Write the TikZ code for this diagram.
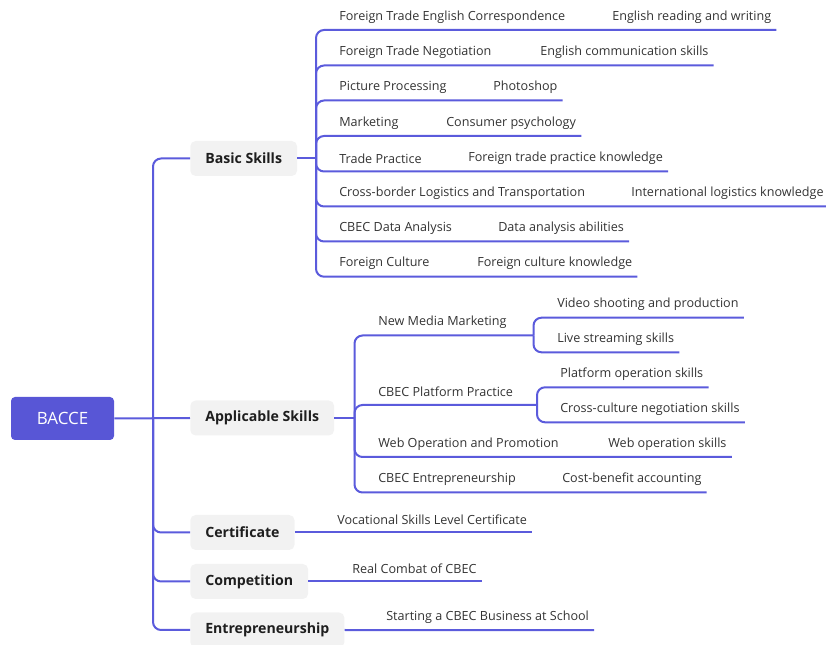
\documentclass[tikz,border=0pt]{standalone}
\usepackage{fontspec}
\setmainfont{Open Sans}
\definecolor{lc}{HTML}{5B5BDC}
\definecolor{rootc}{HTML}{5856D6}
\definecolor{bx}{HTML}{F2F2F2}
\definecolor{tc}{HTML}{333333}
\definecolor{tb}{HTML}{1E1E1E}
\newcommand{\leaffont}{\fontsize{9.45pt}{11pt}\selectfont}
\newcommand{\lvlfont}{\fontsize{10.6pt}{12pt}\selectfont}
\newcommand{\rootfont}{\fontsize{12.7pt}{14pt}\selectfont}
\tikzset{
  conn/.style={draw=lc, line width=1.5pt, rounded corners=6pt},
  leaf/.style={anchor=west, inner sep=0pt, text=tc, font=\leaffont, yshift=-0.75pt},
  lvl/.style={anchor=west, fill=bx, rounded corners=4pt, minimum height=26.25pt, inner xsep=11.25pt, inner ysep=0pt, text=tb, font=\lvlfont\bfseries},
  rootbox/.style={fill=rootc, rounded corners=3pt, minimum width=77.25pt, minimum height=32.25pt, text=white, font=\rootfont},
}
\begin{document}
\begin{tikzpicture}[x=0.75pt,y=-0.75pt]
\useasboundingbox (0,0) rectangle (826,645);
% root
\node[rootbox] (root) at (62.5,418.5) {BACCE};
% level 1
\node[lvl] (basic) at (190,158.5) {Basic Skills};
\node[lvl] (app) at (190,418) {Applicable Skills};
\node[lvl] (cert) at (190,532.5) {Certificate};
\node[lvl] (comp) at (190,581.5) {Competition};
\node[lvl] (entr) at (190,630) {Entrepreneurship};
\coordinate (j0) at (153,418);
\draw[conn] (root.east) -- (app.west);
\draw[conn] (j0) |- (basic.west);
\draw[conn] (j0) |- (cert.west);
\draw[conn] (j0) |- (comp.west);
\draw[conn] (j0) |- (entr.west);
% basic skills children
\coordinate (bj) at (316,158.5);
\draw[conn] (basic.east) -- (bj);
\node[leaf] (b1) at (339,16) {Foreign Trade English Correspondence};
\node[leaf] (b1g) at (612,16) {English reading and writing};
\node[leaf] (b2) at (339,51.5) {Foreign Trade Negotiation};
\node[leaf] (b2g) at (540,51.5) {English communication skills};
\node[leaf] (b3) at (339,86.5) {Picture Processing};
\node[leaf] (b3g) at (493,86.5) {Photoshop};
\node[leaf] (b4) at (339,122) {Marketing};
\node[leaf] (b4g) at (446,122) {Consumer psychology};
\node[leaf] (b5) at (339,157.5) {Trade Practice};
\node[leaf] (b5g) at (468,157.5) {Foreign trade practice knowledge};
\node[leaf] (b6) at (339,192.5) {Cross-border Logistics and Transportation};
\node[leaf] (b6g) at (631,192.5) {International logistics knowledge};
\node[leaf] (b7) at (339,227.5) {CBEC Data Analysis};
\node[leaf] (b7g) at (498,227.5) {Data analysis abilities};
\node[leaf] (b8) at (339,262.7) {Foreign Culture};
\node[leaf] (b8g) at (477,262.7) {Foreign culture knowledge};
\foreach \i in {1,...,8}{
  \path (b\i g.east) ++(5,13) coordinate (b\i e);
  \draw[conn] (bj) |- (b\i e);
}
% applicable skills children
\coordinate (aj) at (354.5,418);
\draw[conn] (app.east) -- (aj);
\node[leaf] (a1) at (378,321.5) {New Media Marketing};
\coordinate (a1j) at (533.5,335.5);
\draw[conn] (aj) |- (a1j);
\node[leaf] (a1g1) at (557,303.7) {Video shooting and production};
\node[leaf] (a1g2) at (557,338.3) {Live streaming skills};
\path (a1g1.east) ++(5,13) coordinate (a1e1);
\path (a1g2.east) ++(5,13) coordinate (a1e2);
\draw[conn] (a1j) |- (a1e1);
\draw[conn] (a1j) |- (a1e2);
\node[leaf] (a2) at (378,390.5) {CBEC Platform Practice};
\coordinate (a2j) at (537,405);
\draw[conn] (aj) |- (a2j);
\node[leaf] (a2g1) at (560,373.3) {Platform operation skills};
\node[leaf] (a2g2) at (560,408.3) {Cross-culture negotiation skills};
\path (a2g1.east) ++(5,13) coordinate (a2e1);
\path (a2g2.east) ++(5,13) coordinate (a2e2);
\draw[conn] (a2j) |- (a2e1);
\draw[conn] (a2j) |- (a2e2);
\node[leaf] (a3) at (378,443) {Web Operation and Promotion};
\node[leaf] (a3g) at (608,443) {Web operation skills};
\path (a3g.east) ++(5,13) coordinate (a3e);
\draw[conn] (aj) |- (a3e);
\node[leaf] (a4) at (378,478.5) {CBEC Entrepreneurship};
\node[leaf] (a4g) at (562,478.5) {Cost-benefit accounting};
\path (a4g.east) ++(5,13) coordinate (a4e);
\draw[conn] (aj) |- (a4e);
% other level-1 children
\node[leaf] (c1) at (337,519) {Vocational Skills Level Certificate};
\path (c1.east) ++(5,12.5) coordinate (c1e);
\draw[conn] (cert.east) -- (c1e);
\node[leaf] (d1) at (352,568) {Real Combat of CBEC};
\path (d1.east) ++(5,12.5) coordinate (d1e);
\draw[conn] (comp.east) -- (d1e);
\node[leaf] (e1) at (386,616.7) {Starting a CBEC Business at School};
\path (e1.east) ++(5,12.5) coordinate (e1e);
\draw[conn] (entr.east) -- (e1e);
\end{tikzpicture}
\end{document}
